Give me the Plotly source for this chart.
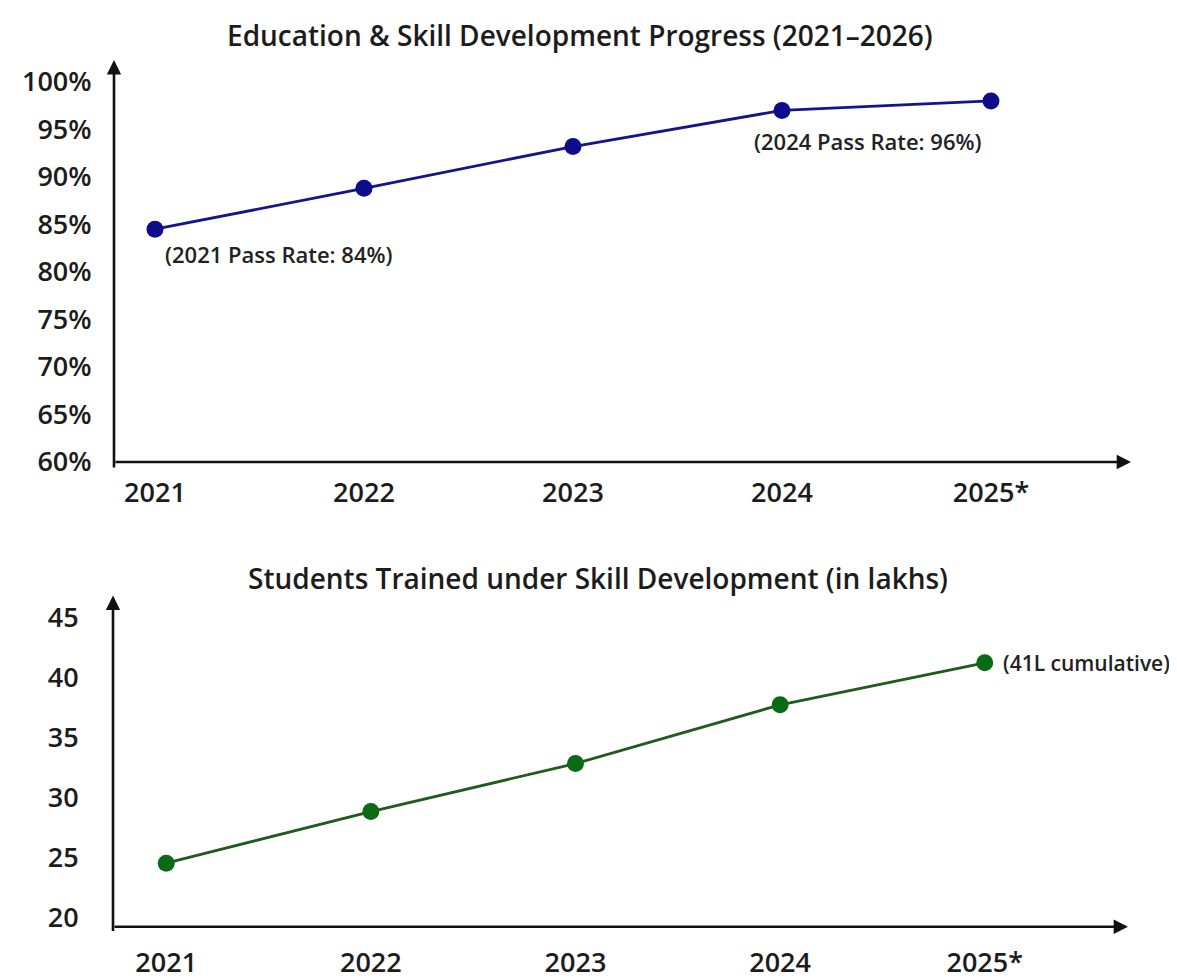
import plotly.graph_objects as go

years = ["2021", "2022", "2023", "2024", "2025*"]
pass_rate = [84.5, 88.8, 93.2, 97.0, 98.0]
trained_lakhs = [24.5, 28.8, 32.8, 37.7, 41.2]
pct_ticks = [60, 65, 70, 75, 80, 85, 90, 95, 100]
pct_labels = [f"{v}%" for v in pct_ticks]
num_ticks = [20, 25, 30, 35, 40, 45]

title_top = "Education & Skill Development Progress (2021–2026)"
title_bottom = "Students Trained under Skill Development (in lakhs)"
note_2021 = "(2021 Pass Rate: 84%)"
note_2024 = "(2024 Pass Rate: 96%)"
note_2025 = "(41L cumulative)"

W, H = 1177, 979
FONT = "Open Sans"
TXT = "#1c1c1c"


def px(x):
    return x / W


def py(y):
    return 1 - y / H


fig = go.Figure()
fig.add_trace(go.Scatter(
    x=years, y=pass_rate, mode="lines+markers", xaxis="x", yaxis="y",
    line=dict(color="#14148c", width=2.8),
    marker=dict(color="#0d0d8c", size=17), showlegend=False))
fig.add_trace(go.Scatter(
    x=years, y=trained_lakhs, mode="lines+markers", xaxis="x2", yaxis="y2",
    line=dict(color="#1f5a1f", width=2.8),
    marker=dict(color="#0b6b14", size=17), showlegend=False))

tick_font = dict(family=FONT, size=27, color=TXT, weight=600)
common_x = dict(type="category", showgrid=False, zeroline=False, showline=False,
                ticks="outside", tickcolor="rgba(0,0,0,0)",
                tickfont=tick_font)
common_y = dict(showgrid=False, zeroline=False, showline=False,
                ticks="outside", tickcolor="rgba(0,0,0,0)",
                tickfont=tick_font)

fig.update_layout(
    width=W, height=H, margin=dict(l=0, r=0, t=0, b=0),
    paper_bgcolor="white", plot_bgcolor="white",
    xaxis=dict(domain=[px(106), px(1123)], range=[-0.196, 4.67], anchor="y",
               ticklen=7, **common_x),
    yaxis=dict(domain=[py(462), py(53)], range=[60, 102.3], anchor="x",
               tickvals=pct_ticks, ticktext=pct_labels, ticklen=16, **common_y),
    xaxis2=dict(domain=[px(105), px(1120)], range=[-0.26, 4.7], anchor="y2",
                ticklen=12, **common_x),
    yaxis2=dict(domain=[py(935), py(598)], range=[19.2, 46.8], anchor="x2",
                tickvals=num_ticks, ticklen=28, **common_y),
)

ann = []
title_font = dict(family=FONT, size=28, color=TXT, weight=600)
ann.append(dict(text=title_top, x=px(572), y=py(27), xref="paper", yref="paper",
                showarrow=False, font=title_font, xanchor="center", yanchor="middle"))
ann.append(dict(text=title_bottom, x=px(590), y=py(580), xref="paper", yref="paper",
                showarrow=False, font=title_font, xanchor="center", yanchor="middle"))

note_font = dict(family=FONT, size=22, color="#222222", weight=600)
i21 = years.index("2021")
i24 = years.index("2024")
i25 = years.index("2025*")
ann.append(dict(text=note_2021, x=i21, y=pass_rate[i21], xref="x", yref="y",
                showarrow=False, xanchor="left", yanchor="middle", xshift=8, yshift=-25,
                font=note_font))
ann.append(dict(text=note_2024, x=i24, y=pass_rate[i24], xref="x", yref="y",
                showarrow=False, xanchor="left", yanchor="middle", xshift=-30, yshift=-31,
                font=note_font))
ann.append(dict(text=note_2025, x=i25, y=trained_lakhs[i25], xref="x2", yref="y2",
                showarrow=False, xanchor="left", yanchor="middle", xshift=16, yshift=0,
                font=dict(family=FONT, size=21, color="#222222", weight=600)))


def arrow(x0, y0, x1, y1):
    return dict(x=px(x1), y=py(y1), xref="paper", yref="paper",
                ax=x0 - x1, ay=y0 - y1, axref="pixel", ayref="pixel",
                showarrow=True, arrowhead=2, arrowsize=1.1, arrowwidth=2.6,
                arrowcolor="#111111", text="")


ann.append(arrow(106, 462, 106, 53))
ann.append(arrow(106, 462, 1123, 462))
ann.append(arrow(105, 935, 105, 598))
ann.append(arrow(105, 935, 1120, 935))

fig.update_layout(annotations=ann)
fig.write_html("out.html")
